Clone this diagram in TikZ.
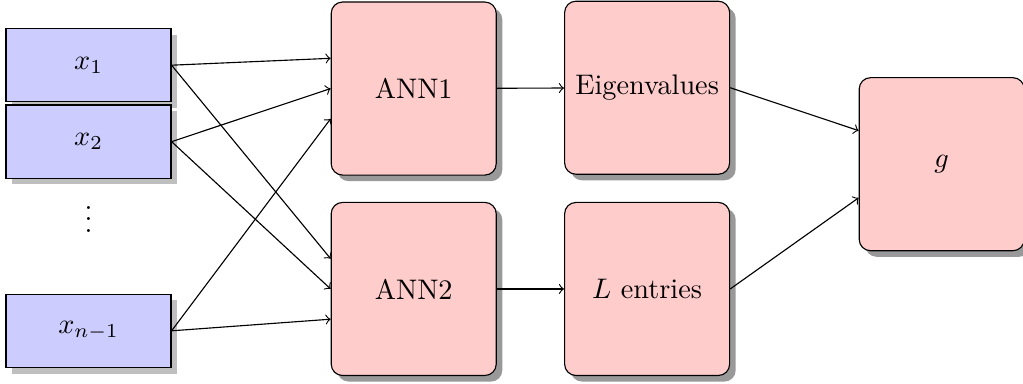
\documentclass[tikz,border=0pt]{standalone}
\usepackage{amsmath}
\usepackage{amssymb}
\usepackage{tikz}
\usetikzlibrary{arrows,shapes,shadows,positioning,calc}

\begin{document}
\begin{tikzpicture}
	\useasboundingbox (0,0) rectangle (12.71,-4.76);
	\tikzset{inp/.style={shape=rectangle,draw=black,fill=blue!20,minimum width=2.05cm,minimum height=0.91cm,drop shadow},
		net/.style={shape=rectangle,rounded corners,draw=black,fill=red!20,minimum width=2.05cm,minimum height=2.15cm,drop shadow={opacity=0.8}}}
	\node[inp](X1) at (1.1,-0.81) {$x_1$};
	\node[inp](X2) at (1.1,-1.76) {$x_2$};
	\node(D) at (1.1,-2.62) {$\vdots$};
	\node[inp](XN) at (1.1,-4.11) {$x_{n-1}$};
	\node[net](A1) at (5.14,-1.1) {ANN1};
	\node[net](A2) at (5.14,-3.59) {ANN2};
	\node[net](E) at (8.04,-1.09) {Eigenvalues};
	\node[net](L) at (8.04,-3.59) {$L$ entries};
	\node[net](G) at (11.7,-2.04) {$g$};
	\path[->](X1.east) edge node {} (A1.160)
		edge node {} (A2.160);
	\path[->](X2.east) edge node {} (A1.west)
		edge node {} (A2.west);
	\path[->](XN.east) edge node {} (A1.200)
		edge node {} (A2.200);
	\path[->](A1) edge node {} (E);
	\path[->](A2) edge node {} (L);
	\path[->](E.east) edge node {} (G.158);
	\path[->](L.east) edge node {} (G.202);
\end{tikzpicture}
\end{document}
